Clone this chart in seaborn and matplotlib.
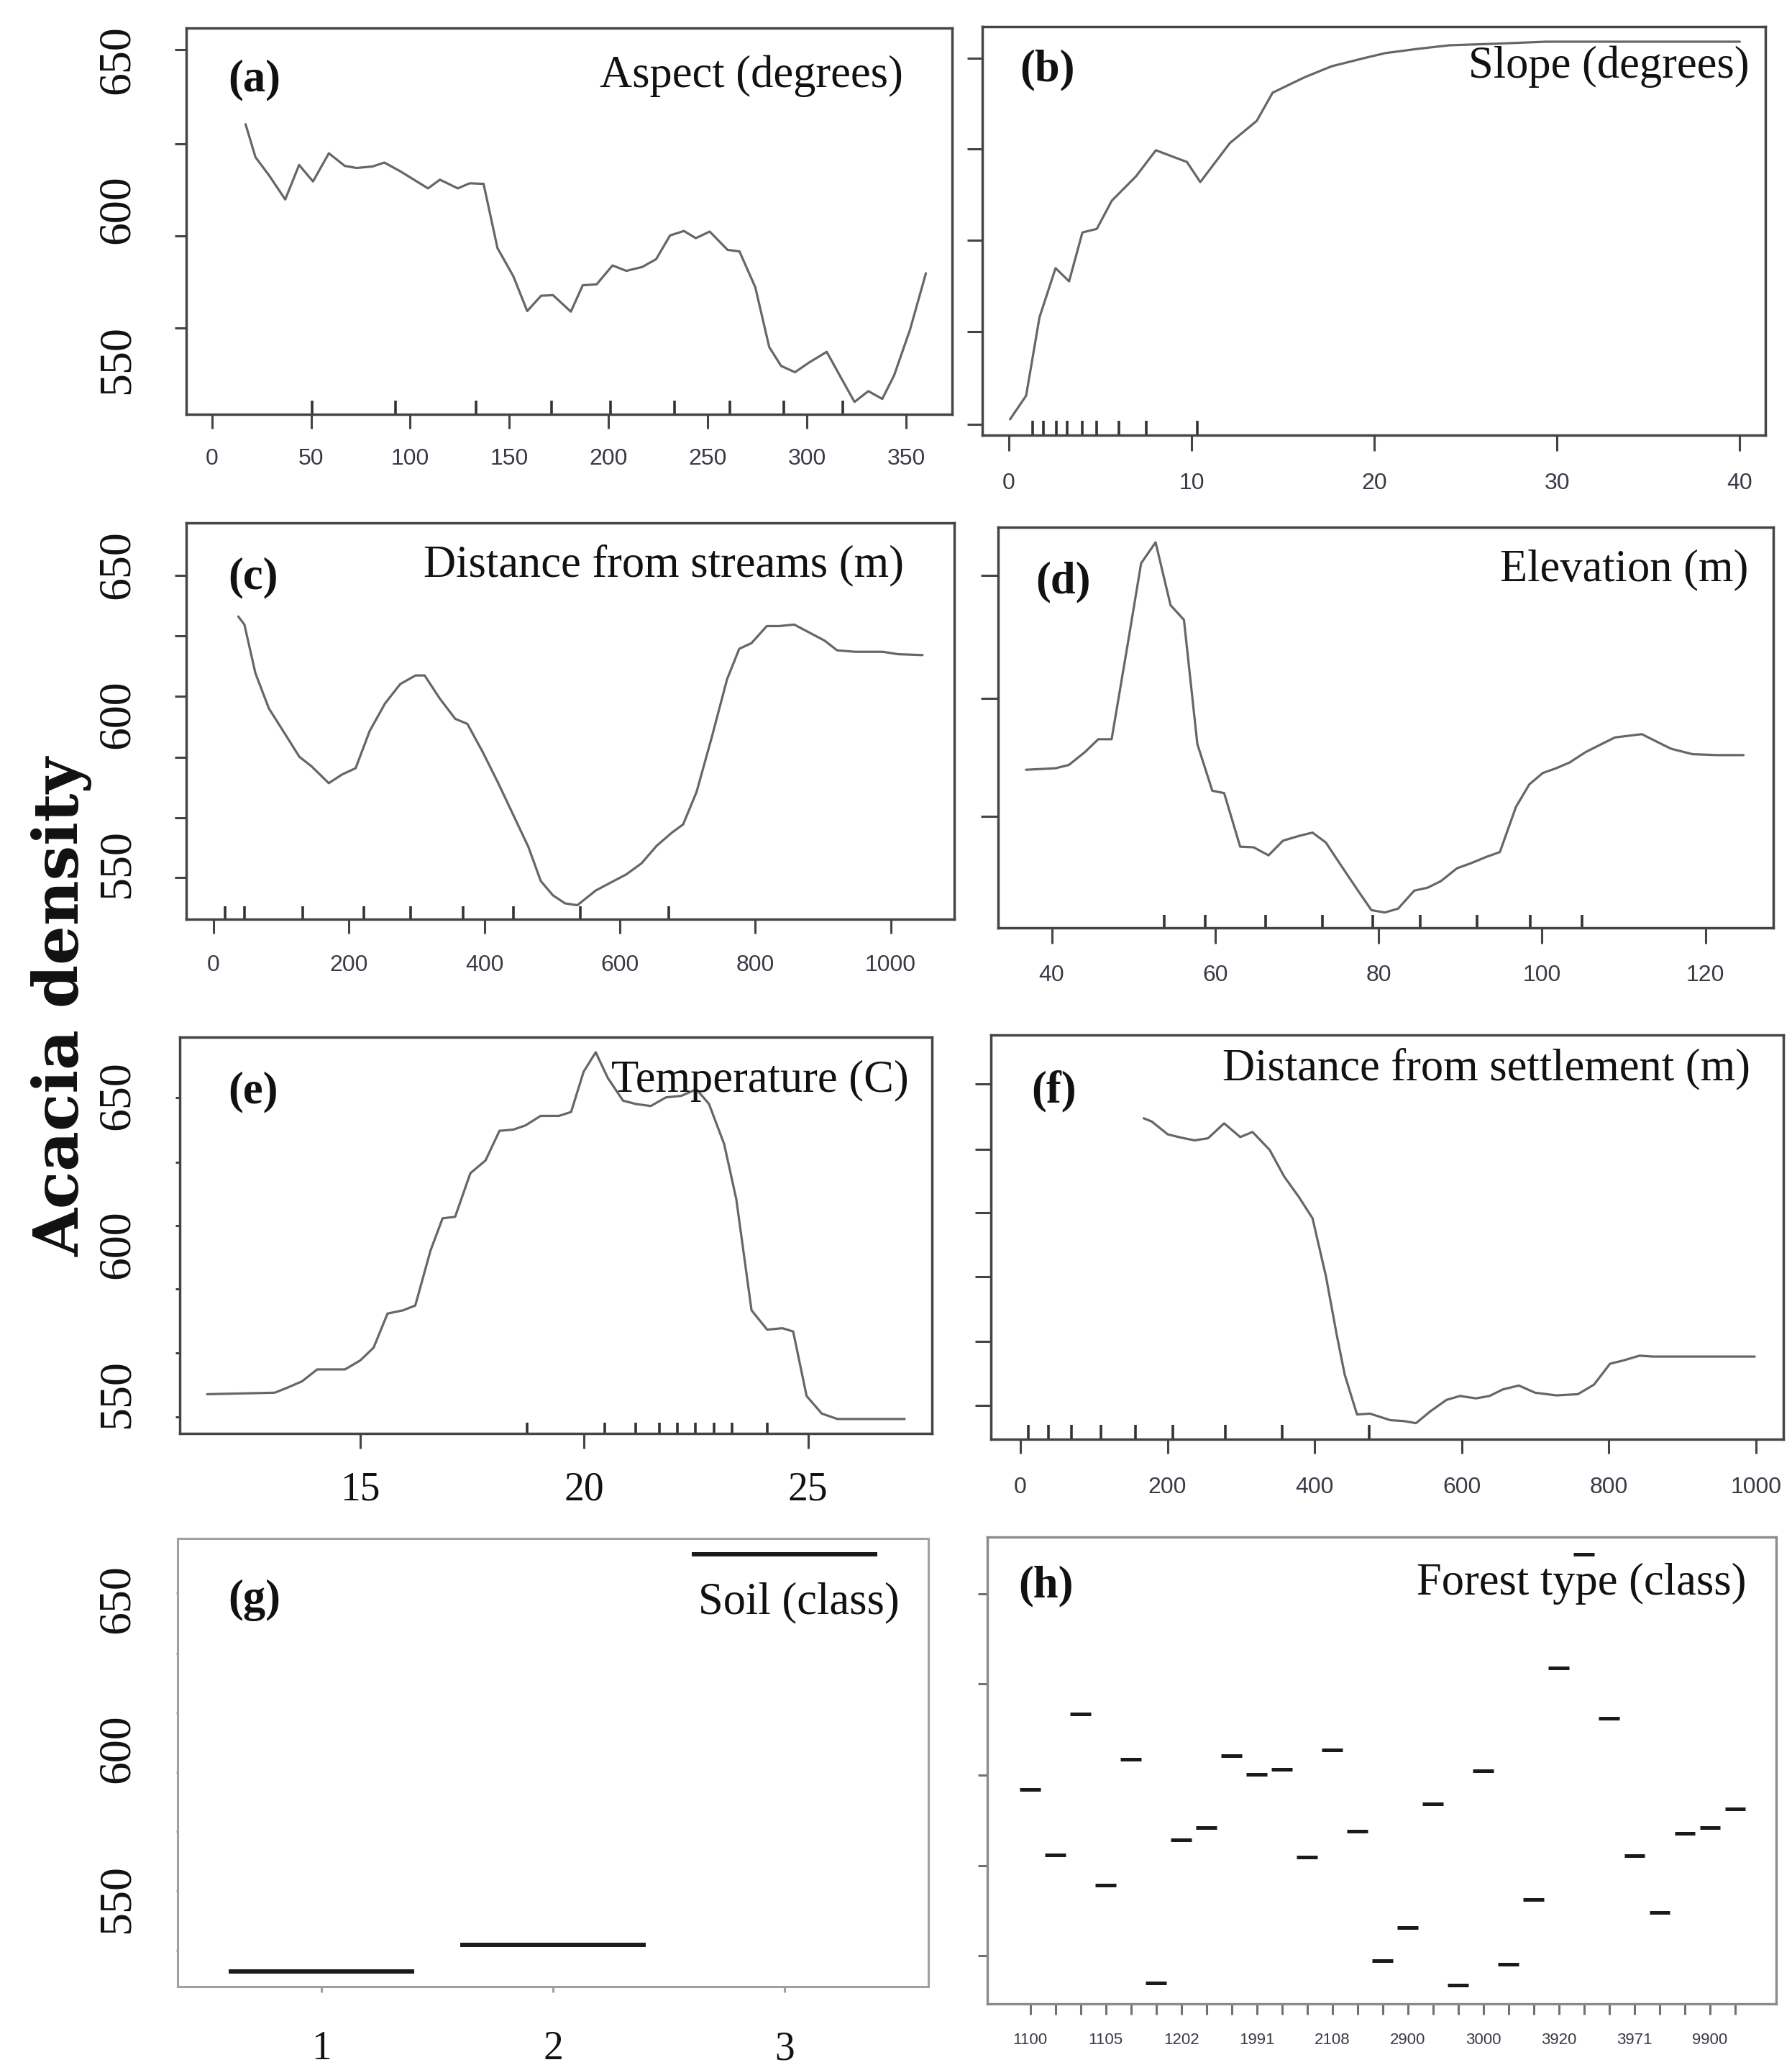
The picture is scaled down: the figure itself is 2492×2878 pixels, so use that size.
import numpy as np
import pandas as pd
import matplotlib
matplotlib.use("Agg")
import matplotlib.pyplot as plt
import seaborn as sns

# ---------------- data ----------------
aspect_x = [17, 22, 29, 37, 44, 51, 59, 67, 73, 81, 87, 95, 109, 115, 124, 130, 137, 144, 152, 159,
            166, 172, 181, 187, 194, 202, 209, 217, 224, 231, 238, 244, 251, 260, 266, 274, 281, 287,
            294, 301, 310, 317, 324, 331, 338, 344, 352, 360]
aspect_y = [628.5, 617.5, 611.3, 603.4, 614.9, 609.4, 618.8, 614.6, 613.9, 614.4, 615.7, 612.8, 607.1,
            610.0, 607.1, 608.8, 608.6, 587.2, 577.8, 566.2, 571.3, 571.5, 566.0, 574.8, 575.1, 581.4,
            579.6, 580.9, 583.5, 591.4, 592.9, 590.5, 592.7, 586.6, 586.1, 574.1, 554.2, 547.9, 545.8,
            549.0, 552.6, 544.2, 535.9, 539.5, 536.9, 544.8, 560.0, 578.8]
aspect_rug = [50.5, 92.7, 133.3, 171.2, 201.1, 233.4, 261.1, 288.2, 318.2]

slope_x = [0.06, 0.94, 1.67, 2.55, 3.29, 4.02, 4.81, 5.63, 6.95, 8.04, 9.74, 10.47, 12.09, 13.56,
           14.43, 16.2, 17.66, 19.42, 20.6, 22.35, 24.1, 26.5, 29.4, 32.3, 40.0]
slope_y = [530.1, 538.0, 564.1, 580.5, 576.1, 592.4, 593.6, 603.0, 611.1, 619.8, 615.9, 609.2, 622.2,
           629.6, 639.0, 644.2, 647.8, 650.5, 652.2, 653.6, 654.8, 655.3, 656.0, 656.0, 656.0]
slope_rug = [1.3, 1.9, 2.6, 3.2, 4.0, 4.8, 6.0, 7.5, 10.3]

streams_x = [36.5, 45.5, 61.7, 81.6, 104.2, 126.7, 144.8, 170.1, 189.9, 209.8, 230.5, 253.1, 275.6,
             298.2, 311.7, 334.3, 356.9, 374.9, 397.5, 420.0, 442.6, 465.1, 483.2, 501.2, 519.3, 537.3,
             564.4, 586.9, 609.6, 632.1, 654.6, 677.2, 693.5, 713.3, 735.8, 758.4, 776.4, 794.5, 817.1,
             835.1, 857.7, 880.2, 902.8, 920.9, 947.9, 988.5, 1011.1, 1047.2]
streams_y = [632.6, 629.9, 613.7, 601.9, 593.8, 585.7, 582.5, 576.9, 579.8, 581.9, 594.3, 603.5, 610.0,
             612.9, 612.9, 605.1, 598.4, 596.7, 587.3, 577.1, 566.3, 555.5, 544.2, 539.4, 536.7, 536.1,
             541.0, 543.7, 546.4, 550.1, 556.0, 560.4, 563.1, 573.9, 592.2, 611.6, 621.8, 623.7, 629.4,
             629.4, 629.9, 627.2, 624.5, 621.3, 620.8, 620.8, 620.0, 619.7]
streams_rug = [16.7, 45.5, 131.3, 221.5, 291.0, 368.6, 442.6, 541.7, 672.3]

elev_x = [36.85, 40.45, 42.09, 44.06, 45.70, 47.33, 49.30, 50.94, 52.71, 54.54, 56.18, 57.82, 59.65,
          61.10, 63.06, 64.70, 66.53, 68.30, 70.27, 71.91, 73.54, 75.51, 77.48, 79.12, 80.75, 82.39,
          84.36, 86.00, 87.63, 89.60, 91.24, 93.20, 94.84, 96.81, 98.44, 100.08, 101.72, 103.36,
          105.33, 107.29, 108.93, 112.21, 114.17, 115.81, 118.43, 121.38, 124.66]
elev_y = [581.4, 581.9, 583.0, 587.3, 591.6, 591.6, 623.4, 650.4, 657.4, 636.4, 631.5, 590.0, 574.4,
          573.6, 555.7, 555.5, 552.8, 557.7, 559.3, 560.4, 557.1, 549.0, 541.0, 534.5, 533.7, 535.0,
          541.0, 542.0, 544.2, 548.5, 550.1, 552.3, 553.9, 569.0, 576.5, 580.3, 581.9, 583.8, 587.3,
          590.0, 592.2, 593.3, 590.6, 588.4, 586.6, 586.3, 586.3]
elev_rug = [53.76, 58.80, 66.21, 73.09, 79.31, 85.08, 92.02, 98.58, 104.87]

temp_x = [11.58, 13.09, 13.36, 13.70, 14.04, 14.66, 15.00, 15.30, 15.61, 15.96, 16.23, 16.57, 16.84,
          17.12, 17.46, 17.80, 18.11, 18.42, 18.69, 19.03, 19.44, 19.71, 19.99, 20.26, 20.53, 20.87,
          21.15, 21.49, 21.83, 22.17, 22.51, 22.79, 23.13, 23.40, 23.74, 24.09, 24.43, 24.67, 24.97,
          25.31, 25.66, 26.20, 27.16]
temp_y = [549.9, 550.4, 552.0, 554.2, 558.2, 558.2, 561.2, 565.5, 576.9, 578.0, 579.6, 598.0, 608.8,
          609.3, 623.9, 628.2, 638.1, 638.5, 639.9, 643.1, 643.1, 644.4, 657.9, 664.4, 655.8, 648.2,
          647.1, 646.4, 649.3, 649.8, 652.0, 647.1, 633.6, 615.2, 578.0, 571.5, 572.0, 570.9, 549.3,
          543.4, 541.6, 541.6, 541.6]
temp_rug = [18.72, 20.46, 21.15, 21.69, 22.08, 22.49, 22.90, 23.31, 24.09]

settle_x = [167.6, 178.6, 200.4, 218.7, 236.9, 255.1, 277.0, 298.9, 315.6, 338.9, 358.6, 379.0, 397.2,
            415.5, 430.0, 441.0, 457.7, 475.2, 502.9, 521.2, 537.9, 557.6, 579.4, 597.7, 619.5, 637.8,
            656.0, 677.8, 699.7, 728.9, 758.0, 779.9, 801.7, 820.0, 841.8, 860.0, 998.5]
settle_y = [642.3, 641.2, 636.9, 635.8, 634.9, 635.6, 640.6, 636.0, 637.7, 631.7, 622.8, 615.8, 608.8,
            589.3, 569.9, 556.4, 543.1, 543.4, 541.2, 540.9, 540.2, 544.2, 548.0, 549.3, 548.5, 549.3,
            551.5, 552.8, 550.4, 549.5, 549.9, 553.1, 560.1, 561.2, 562.8, 562.5, 562.5]
settle_rug = [10.9, 37.9, 69.3, 109.3, 156.7, 207.7, 278.4, 355.7, 473.8]

soil_class = [1, 2, 3]
soil_y = [525.8, 534.7, 664.9]

forest_tick_labels = ["1100", "", "", "1105", "", "", "1202", "", "", "1991", "", "", "2108", "", "",
                      "2900", "", "", "3000", "", "", "3920", "", "", "3971", "", "", "9900", ""]
forest_y = [586.5, 564.7, 611.7, 554.6, 596.5, 522.1, 569.6, 573.7, 597.7, 591.4, 593.2, 563.9, 599.7,
            572.5, 529.4, 540.5, 581.6, 521.2, 592.8, 528.2, 549.7, 627.0, 664.9, 610.1, 564.4, 545.4,
            571.8, 573.8, 579.9]

y_tick_values = [550, 600, 650]
y_tick_labels = ["550", "600", "650"]

# ---------------- style ----------------
sns.set_theme(style="ticks")
plt.rcParams["font.family"] = ["Liberation Serif", "DejaVu Serif"]

W, H = 2492, 2878
fig = plt.figure(figsize=(W / 100, H / 100), dpi=100)
fig.patch.set_facecolor("white")

LINE_COL = "#666666"
AX_COL = "#444444"
RUG_COL = "#333333"
XLAB_COL = "#3a3a46"
PT = 72 / 100  # points per pixel


def make_ax(L, R, T, B):
    return fig.add_axes([L / W, 1 - B / H, (R - L) / W, (B - T) / H])


def style(ax, xlim, ylim, xt, xtl, minor_y, ylen_px, xlen_px, xpad_px,
          xfont, xsize, xcol, frame_col=AX_COL, frame_lw=2.5, ylabels=False, ypad_px=0,
          tick_col=AX_COL, tick_w=2.2):
    ax.set_xlim(*xlim)
    ax.set_ylim(*ylim)
    for s in ax.spines.values():
        s.set_visible(True)
        s.set_color(frame_col)
        s.set_linewidth(frame_lw)
    ax.set_xticks(xt)
    ax.set_xticklabels(xtl, fontfamily=xfont, fontsize=xsize, color=xcol)
    ax.tick_params(axis="x", which="major", direction="out", bottom=True, length=xlen_px * PT,
                   width=tick_w, color=tick_col, pad=xpad_px * PT)
    ax.set_yticks(minor_y, minor=True)
    ax.tick_params(axis="y", which="minor", direction="out", left=True, length=ylen_px * PT,
                   width=tick_w, color=tick_col)
    if ylabels:
        ax.set_yticks(y_tick_values)
        ax.set_yticklabels(y_tick_labels, fontfamily="Liberation Serif", fontsize=46, color="#111111")
        for lab in ax.get_yticklabels():
            lab.set_rotation(90)
            lab.set_ha("center")
            lab.set_va("center")
        ax.tick_params(axis="y", which="major", left=True, length=0, pad=ypad_px * PT)
    else:
        ax.set_yticks([])
    ax.set_xlabel("")
    ax.set_ylabel("")
    ax.set_facecolor("white")


def curve(ax, x, y, rug, rug_h):
    df = pd.DataFrame({"x": x, "y": y})
    sns.lineplot(data=df, x="x", y="y", ax=ax, color=LINE_COL, lw=2.3, sort=False,
                 estimator=None, legend=False)
    sns.rugplot(x=rug, ax=ax, height=rug_h, color=RUG_COL, linewidth=2.6, alpha=1,
                expand_margins=False)


SANS = "Liberation Sans"
SERIF = "Liberation Serif"

# (a) Aspect
ax = make_ax(259, 1324, 39, 576)
curve(ax, aspect_x, aspect_y, aspect_rug, 0.035)
style(ax, (-12.9, 373.2), (531.78, 660.55), list(range(0, 351, 50)),
      [str(v) for v in range(0, 351, 50)], [653.36, 621.94, 591.25, 560.55],
      16, 20, 27.5, SANS, 23, XLAB_COL, ylabels=True, ypad_px=95)

# (b) Slope
ax = make_ax(1366, 2455, 37, 605)
curve(ax, slope_x, slope_y, slope_rug, 0.035)
style(ax, (-1.46, 41.4), (524.82, 661.03), list(range(0, 41, 10)),
      [str(v) for v in range(0, 41, 10)], [650.48, 620.26, 589.81, 559.36, 528.42],
      21, 22, 29.5, SANS, 23, XLAB_COL)

# (c) Distance from streams
ax = make_ax(259, 1327, 727, 1278)
curve(ax, streams_x, streams_y, streams_rug, 0.033)
style(ax, (-40.4, 1094), (531.42, 663.89), list(range(0, 1001, 200)),
      [str(v) for v in range(0, 1001, 200)],
      [646.25, 626.18, 606.0, 585.62, 565.24, 545.38],
      16, 20, 28.5, SANS, 23, XLAB_COL, ylabels=True, ypad_px=95)

# (d) Elevation
ax = make_ax(1388, 2466, 733, 1290)
curve(ax, elev_x, elev_y, elev_rug, 0.032)
style(ax, (33.44, 128.3), (528.58, 662.45), list(range(40, 121, 20)),
      [str(v) for v in range(40, 121, 20)], [646.3, 605.32, 565.74],
      24, 22, 29.5, SANS, 23, XLAB_COL)

# (e) Temperature
ax = make_ax(250, 1296, 1442, 1993)
curve(ax, temp_x, temp_y, temp_rug, 0.027)
style(ax, (10.97, 27.77), (536.75, 669.46), [15, 20, 25], ["15", "20", "25"],
      [649.16, 627.65, 606.45, 585.16, 563.66, 542.17],
      6, 21, 32, SERIF, 40, "#111111", ylabels=True, ypad_px=86)

# (f) Distance from settlement
ax = make_ax(1378, 2480, 1439, 2001)
curve(ax, settle_x, settle_y, settle_rug, 0.036)
style(ax, (-40.1, 1037.4), (534.82, 670.18), list(range(0, 1001, 200)),
      [str(v) for v in range(0, 1001, 200)],
      [653.9, 631.97, 610.7, 589.3, 567.5, 546.1],
      22, 20, 31.5, SANS, 23, XLAB_COL)

# (g) Soil
ax = make_ax(247, 1291, 2139, 2762)
ax.hlines(soil_y, [c - 0.4 for c in soil_class], [c + 0.4 for c in soil_class],
          color="#1a1a1a", lw=4.3)
style(ax, (0.38, 3.62), (520.83, 670.08), soil_class, [str(c) for c in soil_class],
      [651.82, 631.82, 612.03, 592.26, 572.47, 552.68, 532.89],
      2, 8, 53, SERIF, 40, "#111111", frame_col="#a0a0a0", frame_lw=2.2,
      ylabels=True, ypad_px=83, tick_col="#a0a0a0")

# (h) Forest type
ax = make_ax(1373, 2470, 2137, 2786)
pos = np.arange(len(forest_y))
ax.hlines(forest_y, pos - 0.41, pos + 0.41, color="#1a1a1a", lw=3.6)
style(ax, (-1.70, 29.63), (515.08, 670.56), list(pos), forest_tick_labels,
      [651.75, 621.71, 591.33, 561.07, 531.03],
      13, 15, 25.5, SANS, 16, XLAB_COL, frame_col="#8a8a8a", frame_lw=2.4,
      tick_col="#707070")

# ---------------- panel letters and titles ----------------
letters = [("(a)", 317, 126), ("(b)", 1418, 112), ("(c)", 317, 818), ("(d)", 1440, 824),
           ("(e)", 317, 1533), ("(f)", 1434, 1532), ("(g)", 317, 2240), ("(h)", 1416, 2220)]
for txt, x, y in letters:
    fig.text(x / W, 1 - y / H, txt, ha="left", va="baseline", fontfamily=SERIF,
             fontweight="bold", fontsize=45, color="#111111")

titles = [("Aspect (degrees)", 1256, 121), ("Slope (degrees)", 2433, 108),
          ("Distance from streams (m)", 1257, 801), ("Elevation (m)", 2431, 807),
          ("Temperature (C)", 1264, 1518), ("Distance from settlement (m)", 2434, 1501),
          ("Soil (class)", 1251, 2243), ("Forest type (class)", 2429, 2217)]
for txt, x, y in titles:
    fig.text(x / W, 1 - y / H, txt, ha="right", va="baseline", fontfamily=SERIF,
             fontsize=45, color="#111111")

fig.text(86 / W, 1 - 1400 / H, "Acacia density", rotation=90, ha="center", va="center",
         fontfamily="DejaVu Serif", fontweight="bold", fontsize=62, color="#111111")

fig.savefig("out.png", dpi=100, facecolor="white")
